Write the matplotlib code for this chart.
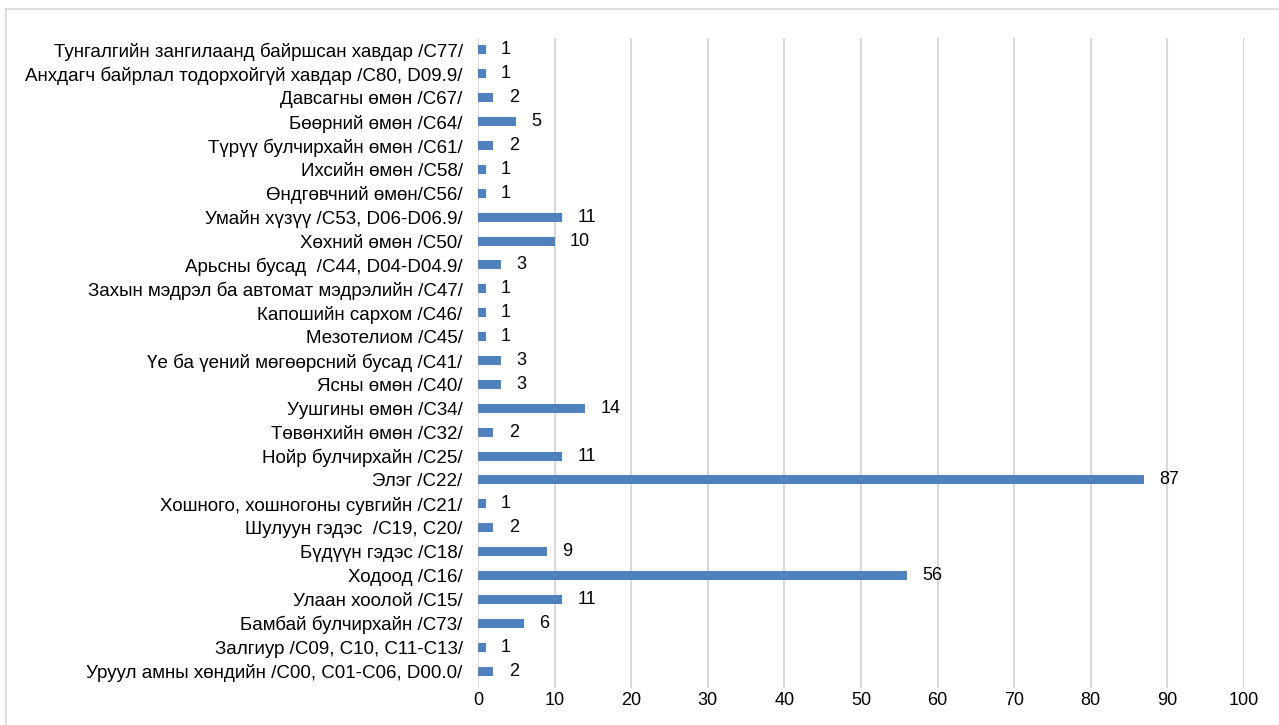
import matplotlib
matplotlib.use("Agg")
import matplotlib.pyplot as plt
from matplotlib.lines import Line2D

plt.rcParams["font.family"] = ["Liberation Sans", "DejaVu Sans"]

# categories listed top to bottom as in the chart
labels = [
    "Тунгалгийн зангилаанд байршсан хавдар /С77/",
    "Анхдагч байрлал тодорхойгүй хавдар /С80, D09.9/",
    "Давсагны өмөн /С67/",
    "Бөөрний өмөн /С64/",
    "Түрүү булчирхайн өмөн /С61/",
    "Ихсийн өмөн /С58/",
    "Өндгөвчний өмөн/С56/",
    "Умайн хүзүү /С53, D06-D06.9/",
    "Хөхний өмөн /С50/",
    "Арьсны бусад  /С44, D04-D04.9/",
    "Захын мэдрэл ба автомат мэдрэлийн /С47/",
    "Капошийн сархом /С46/",
    "Мезотелиом /С45/",
    "Үе ба үений мөгөөрсний бусад /С41/",
    "Ясны өмөн /С40/",
    "Уушгины өмөн /С34/",
    "Төвөнхийн өмөн /С32/",
    "Нойр булчирхайн /С25/",
    "Элэг /С22/",
    "Хошного, хошногоны сувгийн /С21/",
    "Шулуун гэдэс  /С19, С20/",
    "Бүдүүн гэдэс /С18/",
    "Ходоод /С16/",
    "Улаан хоолой /С15/",
    "Бамбай булчирхайн /С73/",
    "Залгиур /С09, С10, С11-С13/",
    "Уруул амны хөндийн /С00, С01-С06, D00.0/",
]
values = [1, 1, 2, 5, 2, 1, 1, 11, 10, 3, 1, 1, 1, 3, 3, 14, 2, 11, 87, 1, 2, 9, 56, 11, 6, 1, 2]
xticks = list(range(0, 101, 10))

W, H = 1279, 725
fig = plt.figure(figsize=(W / 100, H / 100), dpi=100)
ax = fig.add_axes([478 / W, 1 - 688 / H, (1244 - 478) / W, (688 - 38) / H])

n = len(labels)
ypos = list(range(n - 1, -1, -1))
bar_color = "#4F81BD"
ax.barh(ypos, values, height=0.38, color=bar_color, zorder=3)
for y, v in zip(ypos, values):
    ax.text(v + 2.0, y, str(v), va="center", ha="left", fontsize=13, color="#000000")

ax.set_xlim(0, 100)
ax.set_ylim(-0.71, n - 0.5)
ax.set_yticks(ypos)
ax.set_yticklabels(labels, fontsize=13.5)
ax.set_xticks(xticks)
ax.set_xticklabels([str(t) for t in xticks], fontsize=13)
ax.tick_params(axis="both", length=0)
ax.tick_params(axis="y", pad=11)
ax.tick_params(axis="x", pad=3)
ax.grid(True, axis="x", color="#D9D9D9", linewidth=1.5, zorder=0)
for s in ax.spines.values():
    s.set_visible(False)

# light outer frame of the chart area
fig.add_artist(Line2D([6 / W, 6 / W], [0, 1 - 9 / H], color="#D9D9D9", linewidth=1.2))
fig.add_artist(Line2D([6 / W, 1], [1 - 9 / H, 1 - 9 / H], color="#D9D9D9", linewidth=1.2))

fig.savefig("out.png", dpi=100)
